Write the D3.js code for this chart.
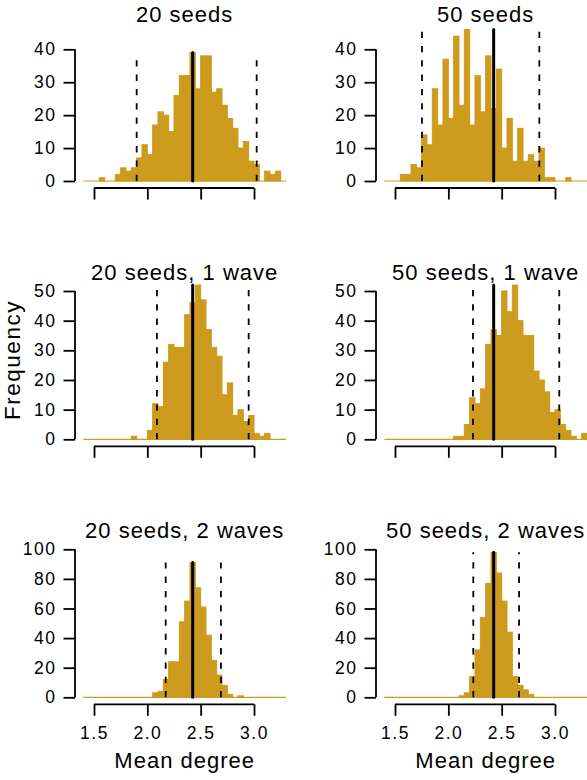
<!DOCTYPE html>
<html>
<head>
<meta charset="utf-8">
<script src="https://cdn.jsdelivr.net/npm/d3@7"></script>
<style>
  body { margin: 0; background: #fff; }
  svg { display: block; }
  text { font-family: "Liberation Sans", Arial, sans-serif; fill: #000; }
</style>
</head>
<body>
<div id="chart"></div>
<script>
// bins of the histograms (left edges, width 0.05)
const binEdges = [1.40, 1.45, 1.50, 1.55, 1.60, 1.65, 1.70, 1.75, 1.80, 1.85,
  1.90, 1.95, 2.00, 2.05, 2.10, 2.15, 2.20, 2.25, 2.30, 2.35,
  2.40, 2.45, 2.50, 2.55, 2.60, 2.65, 2.70, 2.75, 2.80, 2.85,
  2.90, 2.95, 3.00, 3.05, 3.10, 3.15, 3.20, 3.25];
const binWidth = 0.05;

const titles = ['20 seeds', '50 seeds', '20 seeds, 1 wave', '50 seeds, 1 wave',
  '20 seeds, 2 waves', '50 seeds, 2 waves'];

// frequencies per bin
const counts20 = [0, 0, 0, 1, 0, 0, 2, 4, 3, 4, 7, 11, 8, 17, 21, 20, 15, 26, 32, 32,
  39, 28, 38, 38, 27, 28, 23, 19, 16, 10, 12, 6, 5, 0, 3, 2, 3, 0];
const counts50 = [0, 0, 0, 2, 2, 5, 4, 14, 11, 28, 17, 37, 19, 44, 23, 46, 17, 32, 21, 38,
  22, 34, 10, 19, 6, 16, 6, 8, 6, 10, 1, 1, 0, 0, 1, 0, 0, 0];
const counts20w1 = [0, 0, 0, 0, 0, 0, 0, 0, 0, 1, 0, 0, 3, 12, 11, 26, 32, 31, 31, 42,
  46, 52, 47, 37, 31, 28, 15, 19, 8, 10, 6, 8, 2, 1, 2, 0, 0, 0];
const counts50w1 = [0, 0, 0, 0, 0, 0, 0, 0, 0, 0, 0, 0, 0, 1, 1, 5, 14, 12, 17, 32,
  37, 35, 50, 43, 52, 40, 35, 35, 23, 20, 16, 9, 10, 5, 3, 1, 0, 2];
const counts20w2 = [0, 0, 0, 0, 0, 0, 0, 0, 0, 0, 0, 0, 0, 3, 4, 12, 24, 24, 51, 65,
  91, 74, 61, 42, 25, 15, 8, 2, 0, 1, 0, 0, 0, 0, 0, 0, 0, 0];
const counts50w2 = [0, 0, 0, 0, 0, 0, 0, 0, 0, 0, 0, 0, 0, 0, 1, 3, 14, 32, 54, 77,
  98, 84, 65, 44, 14, 8, 5, 2, 0, 0, 0, 0, 0, 0, 0, 0, 0, 0];
const allCounts = [counts20, counts50, counts20w1, counts50w1, counts20w2, counts50w2];

// solid line = mean, dashed lines = interval bounds
const meanValues = [2.425, 2.425, 2.425, 2.425, 2.425, 2.425];
const lowerValues = [1.90, 1.753, 2.09, 2.231, 2.172, 2.234];
const upperValues = [3.025, 2.853, 2.95, 3.04, 2.69, 2.663];

const xTicks = [1.5, 2.0, 2.5, 3.0];
const yTicksByRow = [[0, 10, 20, 30, 40], [0, 10, 20, 30, 40, 50], [0, 20, 40, 60, 80, 100]];

const xLabel = 'Mean degree';
const yLabel = 'Frequency';

// layout
const width = 587, height = 780;
const colX = [94, 395];            // pixel of x = 1.5
const rowY = [181, 439.3, 697.3];  // pixel of y = 0
const rowTop = [49.3, 291, 549.3]; // pixel of top y tick
const pxPerUnit = 106.67;
const barColor = '#CD9B1D';

const svg = d3.select('#chart').append('svg')
  .attr('width', width)
  .attr('height', height);

svg.append('rect').attr('width', width).attr('height', height).attr('fill', '#fff');

allCounts.forEach((counts, p) => {
  const col = p % 2, row = Math.floor(p / 2);
  const x = d3.scaleLinear()
    .domain([1.5, 3.0])
    .range([colX[col], colX[col] + 1.5 * pxPerUnit]);
  const yTicks = yTicksByRow[row];
  const y = d3.scaleLinear()
    .domain([0, d3.max(yTicks)])
    .range([rowY[row], rowTop[row]]);

  const g = svg.append('g');
  const maxCount = d3.max(counts);

  // empty bins still show their border as a line along zero
  g.append('line')
    .attr('x1', x(binEdges[0]))
    .attr('x2', x(binEdges[binEdges.length - 1] + binWidth))
    .attr('y1', y(0)).attr('y2', y(0))
    .attr('stroke', barColor)
    .attr('stroke-width', 1.2);

  // histogram bars
  g.selectAll('rect.bar')
    .data(counts)
    .enter()
    .append('rect')
    .attr('class', 'bar')
    .attr('x', (d, i) => x(binEdges[i]))
    .attr('width', (d, i) => x(binEdges[i] + binWidth) - x(binEdges[i]))
    .attr('y', d => y(d))
    .attr('height', d => y(0) - y(d))
    .attr('fill', barColor)
    .attr('stroke', barColor)
    .attr('stroke-width', 1);

  // dashed bounds, drawn from the bottom up to the tallest bar
  [lowerValues[p], upperValues[p]].forEach(v => {
    g.append('line')
      .attr('x1', x(v)).attr('x2', x(v))
      .attr('y1', y(0)).attr('y2', y(maxCount))
      .attr('stroke', '#000')
      .attr('stroke-width', 1.8)
      .attr('stroke-dasharray', '6.3,8');
  });

  // mean line
  g.append('line')
    .attr('x1', x(meanValues[p])).attr('x2', x(meanValues[p]))
    .attr('y1', y(0)).attr('y2', y(maxCount))
    .attr('stroke', '#000')
    .attr('stroke-width', 3)
    .attr('stroke-linecap', 'round');

  // x axis, R style (offset below the plot, labels only on bottom row)
  const xAxis = g.append('g')
    .attr('transform', `translate(0,${rowY[row] + 7})`)
    .call(d3.axisBottom(x).tickValues(xTicks).tickSize(11.5).tickPadding(11)
      .tickFormat(row === 2 ? d3.format('.1f') : () => ''));
  xAxis.select('.domain').attr('d', `M${x(1.5)},0H${x(3.0)}`);

  // y axis
  const yAxis = g.append('g')
    .attr('transform', `translate(${colX[col] - 19},0)`)
    .call(d3.axisLeft(y).tickValues(yTicks).tickSize(11.5).tickPadding(7).tickFormat(d3.format('d')));
  yAxis.select('.domain').attr('d', `M0,${y(0)}V${y(d3.max(yTicks))}`);

  g.selectAll('.domain, .tick line')
    .attr('stroke', '#000')
    .attr('stroke-width', 1.8);
  g.selectAll('.tick text')
    .style('font-family', '"Liberation Sans", Arial, sans-serif')
    .style('font-size', '17.5px')
    .style('letter-spacing', '1.5px')
    .attr('fill', '#000');

  // panel title
  const cx = x(2.35);
  g.append('text')
    .attr('x', cx)
    .attr('y', rowY[row] - 159.3)
    .attr('text-anchor', 'middle')
    .style('font-size', '22px')
    .style('letter-spacing', '1px')
    .text(titles[p]);

  if (row === 2) {
    g.append('text')
      .attr('x', cx)
      .attr('y', 768.3)
      .attr('text-anchor', 'middle')
      .style('font-size', '22px')
      .style('letter-spacing', '1px')
      .text(xLabel);
  }
});

svg.append('text')
  .attr('transform', 'translate(19.5,360) rotate(-90)')
  .attr('text-anchor', 'middle')
  .style('font-size', '22.5px')
  .style('letter-spacing', '1.5px')
  .text(yLabel);
</script>
</body>
</html>
